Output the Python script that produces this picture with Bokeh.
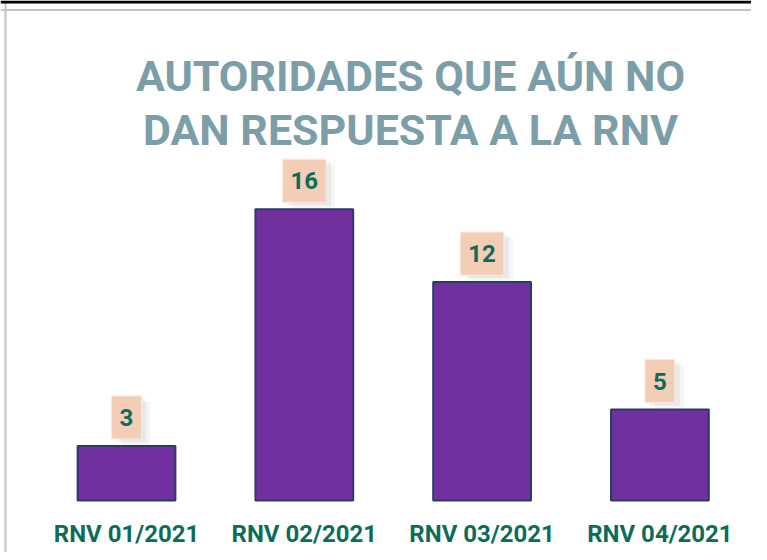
import numpy as np
from bokeh.plotting import figure
from bokeh.models import Range1d, Span, Label
from bokeh.core.properties import value
from bokeh.embed import file_html
from bokeh.resources import INLINE

# ---- data ----
categories = ["RNV 01/2021", "RNV 02/2021", "RNV 03/2021", "RNV 04/2021"]
counts = [3, 16, 12, 5]
title_lines = ["AUTORIDADES QUE AÚN NO", "DAN RESPUESTA A LA RNV"]

# ---- styles ----
FONT = "Roboto"
BAR_FILL = "#7030a0"
BAR_LINE = "#2c3a6a"
LABEL_BG = "#f4cdb6"
GREEN = "#0b6d58"
TITLE_COLOR = "#7b9ea9"
BORDER = "#c4c4c4"

W, H = 751, 552
xs = np.arange(len(categories))
labels = [str(v) for v in counts]

p = figure(width=W, height=H, output_backend="svg", toolbar_location=None,
           x_axis_type=None, y_axis_type=None,
           x_range=Range1d(-0.7087, 3.5152), y_range=Range1d(-2.857, 27.473),
           min_border=0, background_fill_color="white", border_fill_color="white")
p.outline_line_color = None
p.xgrid.visible = False
p.ygrid.visible = False

# frame lines
p.add_layout(Span(location=5, location_units="screen", dimension="height",
                  line_color=BORDER, line_width=2))
p.add_layout(Span(location=H - 9.5, location_units="screen", dimension="width",
                  line_color=BORDER, line_width=2))
p.add_layout(Span(location=H - 1.5, location_units="screen", dimension="width",
                  line_color="black", line_width=3))

# bars
p.vbar(x=xs, top=counts, bottom=0, width=0.55, fill_color=BAR_FILL,
       line_color=BAR_LINE, line_width=2)

PAD = dict(left=8, right=8, top=13, bottom=13)
# label shadows
p.text(x=xs, y=counts, text=labels, anchor="bottom_center", x_offset=9, y_offset=-1,
       text_font=value(FONT), text_font_style="bold", text_font_size="24px",
       text_alpha=0, padding=PAD, background_fill_color="#000000",
       background_fill_alpha=0.04)
p.text(x=xs, y=counts, text=labels, anchor="bottom_center", x_offset=5, y_offset=-4,
       text_font=value(FONT), text_font_style="bold", text_font_size="24px",
       text_alpha=0, padding=PAD, background_fill_color="#000000",
       background_fill_alpha=0.05)
# value labels
p.text(x=xs, y=counts, text=labels, anchor="bottom_center", y_offset=-7,
       text_font=value(FONT), text_font_style="bold", text_font_size="24px",
       text_color=GREEN, padding=PAD, background_fill_color=LABEL_BG,
       border_line_color="#fbe6da", border_line_width=1)

# category labels
p.text(x=xs, y=[0] * len(xs), text=categories, text_align="center",
       text_baseline="alphabetic", y_offset=33,
       text_font=value(FONT), text_font_style="bold", text_font_size="24px",
       text_color=GREEN)

# title
for i, line in enumerate(title_lines):
    p.add_layout(Label(x=410, y=H - 75 - 54 * i, x_units="screen", y_units="screen",
                       text=line, text_align="center", text_baseline="alphabetic",
                       text_font=FONT, text_font_style="bold", text_font_size="43px",
                       text_color=TITLE_COLOR))

open("out.html", "w").write(file_html(p, INLINE))
